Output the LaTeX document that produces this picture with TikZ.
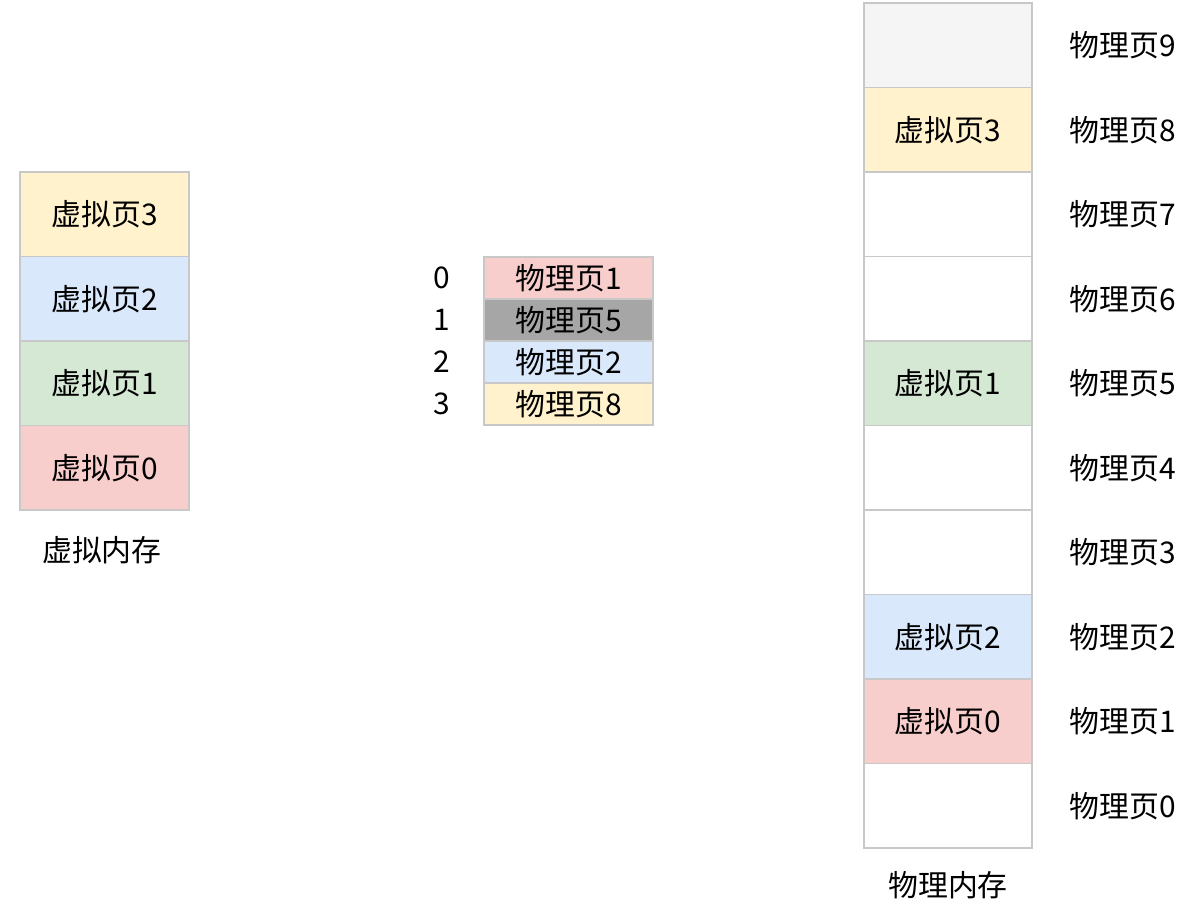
\documentclass[tikz,border=0pt]{standalone}
\usepackage{fontspec}
\setmainfont{Noto Sans CJK SC}
\usetikzlibrary{positioning}
\definecolor{pgyellow}{HTML}{FFF2CC}
\definecolor{pgblue}{HTML}{DAE8FC}
\definecolor{pggreen}{HTML}{D5E8D4}
\definecolor{pgred}{HTML}{F8CECC}
\definecolor{pgdark}{HTML}{A6A6A6}
\definecolor{pglight}{HTML}{F5F5F5}
\definecolor{pgline}{HTML}{C8C8C8}

\begin{document}
\begin{tikzpicture}[
    page/.style={draw=pgline, line width=0.8pt, rectangle, minimum width=3.38cm, minimum height=1.69cm, outer sep=0pt, inner sep=0pt, font=\fontsize{17pt}{19pt}\selectfont},
    entry/.style={draw=pgline, line width=0.8pt, rectangle, minimum width=3.38cm, minimum height=0.84cm, outer sep=0pt, inner sep=0pt, font=\fontsize{17pt}{19pt}\selectfont},
    memtext/.style={font=\fontsize{17pt}{19pt}\selectfont}
]
\useasboundingbox (0,0) rectangle (23.92,-18.14);

% Virtual memory
\node[page, fill=pgyellow, anchor=north] (v3) at (2.09,-3.44) {虚拟页3};
\node[page, fill=pgblue, below=0pt of v3] (v2) {虚拟页2};
\node[page, fill=pggreen, below=0pt of v2] (v1) {虚拟页1};
\node[page, fill=pgred, below=0pt of v1] (v0) {虚拟页0};
\node[memtext, below=0.4cm of v0, xshift=-0.05cm] (vmem) {虚拟内存};

% Page table
\node[entry, fill=pgred, anchor=north] (t0) at (11.37,-5.14) {物理页1};
\node[entry, fill=pgdark, below=0pt of t0] (t1) {物理页5};
\node[entry, fill=pgblue, below=0pt of t1] (t2) {物理页2};
\node[entry, fill=pgyellow, below=0pt of t2] (t3) {物理页8};
\node[memtext, left=0.55cm of t0] (i0) {0};
\node[memtext, left=0.55cm of t1] (i1) {1};
\node[memtext, left=0.55cm of t2] (i2) {2};
\node[memtext, left=0.55cm of t3] (i3) {3};

% Physical memory
\node[page, fill=pglight, anchor=north, minimum width=3.36cm] (p9) at (18.96,-0.06) {};
\node[page, fill=pgyellow, below=0pt of p9, minimum width=3.36cm] (p8) {虚拟页3};
\node[page, fill=white, below=0pt of p8, minimum width=3.36cm] (p7) {};
\node[page, fill=white, below=0pt of p7, minimum width=3.36cm] (p6) {};
\node[page, fill=pggreen, below=0pt of p6, minimum width=3.36cm] (p5) {虚拟页1};
\node[page, fill=white, below=0pt of p5, minimum width=3.36cm] (p4) {};
\node[page, fill=white, below=0pt of p4, minimum width=3.36cm] (p3) {};
\node[page, fill=pgblue, below=0pt of p3, minimum width=3.36cm] (p2) {虚拟页2};
\node[page, fill=pgred, below=0pt of p2, minimum width=3.36cm] (p1) {虚拟页0};
\node[page, fill=white, below=0pt of p1, minimum width=3.36cm] (p0) {};
\node[memtext, below=0.35cm of p0] (pmem) {物理内存};

\coordinate (lx) at (22.45,0);
\node[memtext] (l9) at (lx |- p9) {物理页9};
\node[memtext] (l8) at (lx |- p8) {物理页8};
\node[memtext] (l7) at (lx |- p7) {物理页7};
\node[memtext] (l6) at (lx |- p6) {物理页6};
\node[memtext] (l5) at (lx |- p5) {物理页5};
\node[memtext] (l4) at (lx |- p4) {物理页4};
\node[memtext] (l3) at (lx |- p3) {物理页3};
\node[memtext] (l2) at (lx |- p2) {物理页2};
\node[memtext] (l1) at (lx |- p1) {物理页1};
\node[memtext] (l0) at (lx |- p0) {物理页0};

\end{tikzpicture}
\end{document}
